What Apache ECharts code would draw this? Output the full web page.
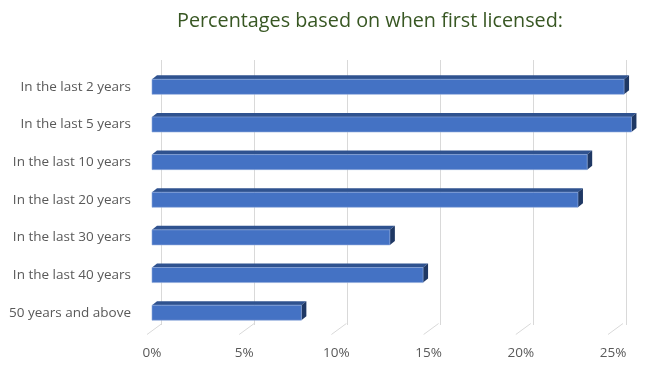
<!DOCTYPE html>
<html>
<head>
<meta charset="utf-8">
<script src="https://cdn.jsdelivr.net/npm/echarts@6/dist/echarts.min.js"></script>
<style>
  html, body { margin: 0; padding: 0; background: #fff; }
  #chart { width: 663px; height: 376px; }
</style>
</head>
<body>
<div id="chart"></div>
<script>
const categories = [
  'In the last 2 years',
  'In the last 5 years',
  'In the last 10 years',
  'In the last 20 years',
  'In the last 30 years',
  'In the last 40 years',
  '50 years and above'
];
const values = [25.6, 26.0, 23.6, 23.1, 12.9, 14.7, 8.1];
const tickValues = [0, 5, 10, 15, 20, 25];

const DX = 5, DY = 4;

function renderBar(params, api) {
  const val = api.value(0);
  const cat = api.value(1);
  const start = api.coord([0, cat]);
  const end = api.coord([val, cat]);
  const h = api.size([0, 1])[1] * 0.4;
  const x = start[0], y = start[1] - h / 2, w = end[0] - start[0];
  return {
    type: 'group',
    children: [
      {
        type: 'polygon',
        shape: { points: [[x, y], [x + DX, y - DY], [x + w + DX, y - DY], [x + w, y]] },
        style: { fill: '#2f528f' }
      },
      {
        type: 'polygon',
        shape: { points: [[x + w, y], [x + w + DX, y - DY], [x + w + DX, y + h - DY], [x + w, y + h]] },
        style: { fill: '#1f3864' }
      },
      {
        type: 'rect',
        shape: { x: x, y: y, width: w, height: h },
        style: { fill: '#4472c4', stroke: '#8faadc', lineWidth: 0.6 }
      }
    ]
  };
}

function renderTick(params, api) {
  const p = api.coord([api.value(0), categories.length - 1]);
  const b = p[1] + api.size([0, 1])[1] / 2;
  return {
    type: 'line',
    shape: { x1: p[0] - 5, y1: b + 3, x2: p[0] + 10, y2: b - 8 },
    style: { stroke: '#d9d9d9', lineWidth: 1 }
  };
}

const chart = echarts.init(document.getElementById('chart'));
chart.setOption({
  animation: false,
  title: {
    text: 'Percentages based on when first licensed:',
    left: 172,
    top: 6,
    textStyle: { fontFamily: 'Open Sans', fontSize: 19.8, fontWeight: 'normal', color: '#385723' }
  },
  grid: [
    { left: 152, right: 50, top: 68, bottom: 44.5 },
    { left: 161, right: 37, top: 60, bottom: 51 }
  ],
  xAxis: [
    {
      gridIndex: 0, type: 'value', min: 0, max: 25, interval: 5,
      axisLine: { show: false }, axisTick: { show: false }, splitLine: { show: false },
      axisLabel: { formatter: '{value}%', margin: 15, color: '#595959', fontFamily: 'Open Sans', fontSize: 13.5 }
    },
    {
      gridIndex: 1, type: 'value', min: 0, max: 25, interval: 5,
      axisLine: { show: false }, axisTick: { show: false }, axisLabel: { show: false },
      splitLine: { show: true, lineStyle: { color: '#d9d9d9', width: 1 } }
    }
  ],
  yAxis: [
    {
      gridIndex: 0, type: 'category', data: categories, inverse: true,
      axisLine: { show: false }, axisTick: { show: false },
      axisLabel: { margin: 21, color: '#595959', fontFamily: 'Open Sans', fontSize: 13.5 }
    },
    {
      gridIndex: 1, type: 'category', data: categories, inverse: true, show: false
    }
  ],
  series: [
    {
      type: 'custom',
      xAxisIndex: 0, yAxisIndex: 0,
      renderItem: renderTick,
      clip: false,
      data: tickValues.map(v => [v])
    },
    {
      type: 'custom',
      xAxisIndex: 0, yAxisIndex: 0,
      renderItem: renderBar,
      clip: false,
      encode: { x: 0, y: 1 },
      data: values.map((v, i) => [v, i])
    }
  ]
});
</script>
</body>
</html>
